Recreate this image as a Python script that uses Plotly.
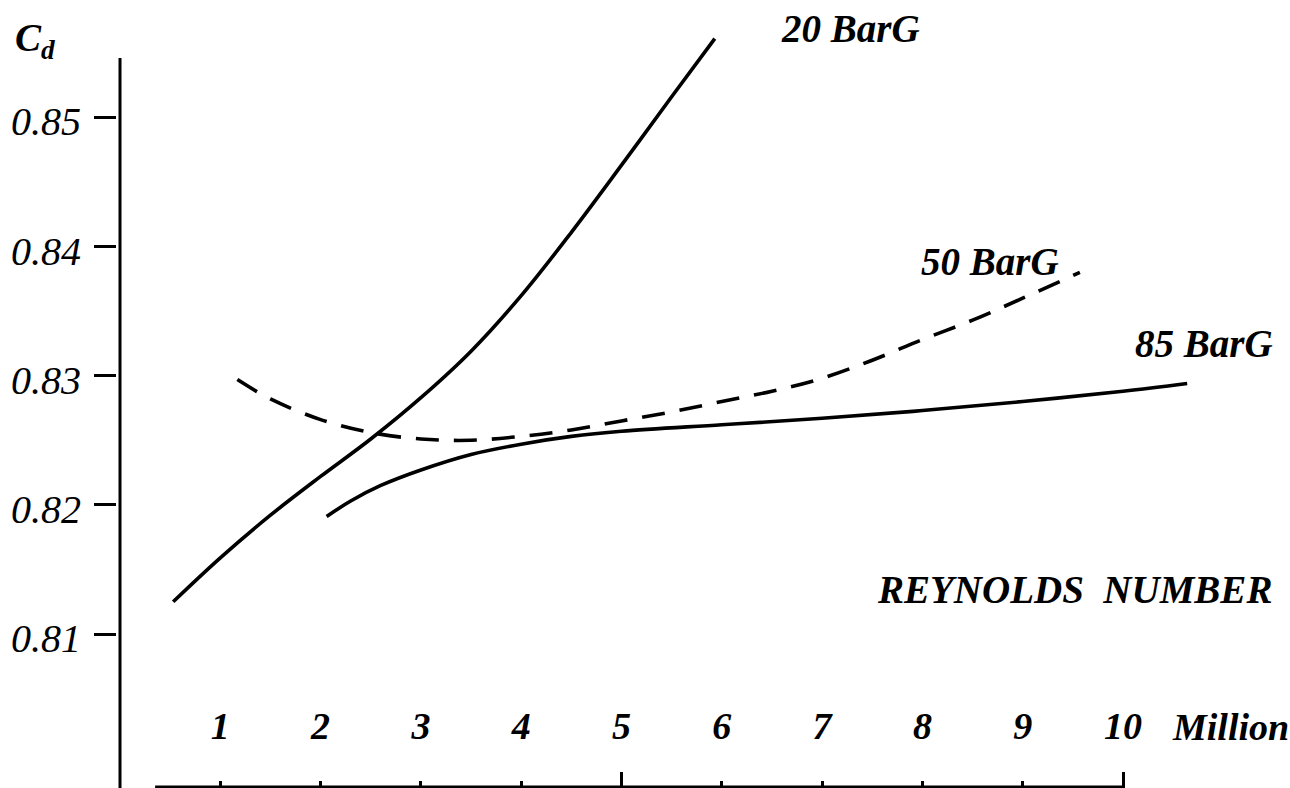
import plotly.graph_objects as go

# ---------------- data ----------------
re_20 = [0.53, 1.0, 1.5, 2.0, 2.5, 3.0, 3.5, 4.0, 4.5, 5.0, 5.5, 5.93]
cd_20 = [0.8125, 0.8159, 0.8192, 0.8222, 0.8251, 0.8283, 0.8319, 0.8362, 0.8411, 0.8463, 0.8516, 0.8561]

re_50 = [1.17, 1.5, 2.0, 2.5, 3.0, 3.5, 4.0, 4.5, 5.0, 5.5, 6.0, 6.5, 7.0, 7.5, 8.0, 8.5, 9.0, 9.57]
cd_50 = [0.8297, 0.8282, 0.8266, 0.8256, 0.8251, 0.8250, 0.8253, 0.8258, 0.8265, 0.8272, 0.8280,
         0.8288, 0.8298, 0.8312, 0.8328, 0.8343, 0.8360, 0.8380]

re_85 = [2.06, 2.3, 2.6, 3.0, 3.5, 4.0, 4.5, 5.0, 6.0, 7.0, 8.0, 9.0, 10.0, 10.64]
cd_85 = [0.8191, 0.8203, 0.8215, 0.8227, 0.8239, 0.8247, 0.8253, 0.8257, 0.8262, 0.8267, 0.8273,
         0.8280, 0.8288, 0.8294]

x_ticks = [1, 2, 3, 4, 5, 6, 7, 8, 9, 10]
x_ticktext = ["1", "2", "3", "4", "5", "6", "7", "8", "9", "10"]
x_major_ticks = [5, 10]
y_ticks = [0.81, 0.82, 0.83, 0.84, 0.85]
y_ticktext = ["0.81", "0.82", "0.83", "0.84", "0.85"]

series_labels = ["20 BarG", "50 BarG", "85 BarG"]

# ---------------- layout constants ----------------
X_RANGE = [-0.03, 11.665]
Y_RANGE = [0.798076, 0.85909]
Y_AXIS_TOP = 0.8546
X_AXIS_Y = 0.79815
FONT = "Liberation Serif"
BI = dict(family=FONT, size=39, color="black", style="italic", weight="bold")
BI_T = dict(family=FONT, size=38, color="black", style="italic", weight="bold")
IT = dict(family=FONT, size=40, color="black", style="italic", weight="normal")

fig = go.Figure()
fig.add_trace(go.Scatter(x=re_20, y=cd_20, mode="lines", name=series_labels[0],
                         line=dict(color="black", width=3.6, shape="spline")))
# the dashed series is drawn on the overlaid (identical) x axis so that axis is rendered
fig.add_trace(go.Scatter(x=re_50, y=cd_50, mode="lines", name=series_labels[1], xaxis="x2",
                         line=dict(color="black", width=3.6, shape="spline", dash="23px,15px")))
fig.add_trace(go.Scatter(x=re_85, y=cd_85, mode="lines", name=series_labels[2],
                         line=dict(color="black", width=3.6, shape="spline")))

fig.update_layout(
    width=1290, height=788,
    margin=dict(l=117, r=0, t=0, b=0, pad=0),
    paper_bgcolor="white", plot_bgcolor="white",
    showlegend=False,
    xaxis=dict(range=X_RANGE, showgrid=False, zeroline=False, showline=False,
               tickmode="array", tickvals=x_ticks, ticktext=x_ticktext,
               ticks="inside", ticklen=7, tickwidth=3, tickcolor="black",
               ticklabelposition="inside", ticklabelstandoff=39, tickfont=BI_T),
    xaxis2=dict(range=X_RANGE, overlaying="x", anchor="y", side="bottom",
                showgrid=False, zeroline=False, showline=False,
                tickmode="array", tickvals=x_major_ticks, showticklabels=False,
                ticks="inside", ticklen=16, tickwidth=3, tickcolor="black"),
    yaxis=dict(range=Y_RANGE, showgrid=False, zeroline=False, showline=False,
               tickmode="array", tickvals=y_ticks, ticktext=y_ticktext,
               ticks="outside", ticklen=22, tickwidth=3, tickcolor="black",
               ticklabelstandoff=5, ticklabelshift=4, tickfont=IT),
    shapes=[
        dict(type="line", xref="x", yref="y", x0=0, x1=0, y0=Y_RANGE[0], y1=Y_AXIS_TOP,
             line=dict(color="black", width=3)),
        dict(type="line", xref="x", yref="y", x0=0.35, x1=10, y0=X_AXIS_Y, y1=X_AXIS_Y,
             line=dict(color="black", width=3)),
    ],
    annotations=[
        dict(text="C<sub>d</sub>", xref="paper", yref="paper", x=-0.089, y=0.948,
             xanchor="left", yanchor="middle", showarrow=False, font=BI),
        dict(text=series_labels[0], xref="x", yref="y", x=7.28, y=0.8569,
             xanchor="center", yanchor="middle", showarrow=False, font=BI),
        dict(text=series_labels[1], xref="x", yref="y", x=8.67, y=0.83888,
             xanchor="center", yanchor="middle", showarrow=False, font=BI),
        dict(text=series_labels[2], xref="x", yref="y", x=10.81, y=0.83253,
             xanchor="center", yanchor="middle", showarrow=False, font=BI),
        dict(text="REYNOLDS\u00a0\u00a0NUMBER", xref="x", yref="y", x=9.52, y=0.81341,
             xanchor="center", yanchor="middle", showarrow=False, font=BI),
        dict(text="Million", xref="x", yref="y", x=10.47, y=0.8028,
             xanchor="left", yanchor="middle", showarrow=False, font=BI_T),
    ],
)

fig.write_html("out.html", config={"displayModeBar": False},
               post_script="document.body.style.margin='0px';")
